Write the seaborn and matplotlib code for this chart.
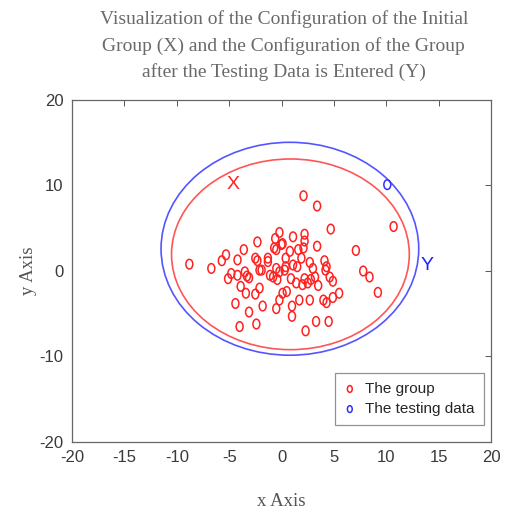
import numpy as np
import pandas as pd
import seaborn as sns
import matplotlib
matplotlib.use("Agg")
import matplotlib.pyplot as plt
from matplotlib.patches import Ellipse
from matplotlib.path import Path

# ---------------- data ----------------
group_x = [-8.8, -6.7, -5.7, -5.3, -5.1, -4.2, -3.6, -2.3, -2.5, -2.3, -1.9, -1.3,
           -3.5, -3.3, -3.1, -4.2, -3.9, -3.4, -2.5, -2.1, -4.4, -3.1, -1.8, -4.0,
           -2.4, -0.6, -0.2, -0.5, 0.0, 1.1, 2.2, 2.2, 2.1, 0.8, 0.4, 1.6, 1.9, 3.4,
           2.7, 4.1, 4.2, 4.6, 4.9, 4.7, 2.1, 3.4, 5.5, 4.9, 4.3, 4.5, 3.3, 2.3, 1.0,
           1.0, -0.5, -0.2, 0.1, 0.5, 1.7, 2.7, 3.5, 2.8, 2.0, 1.4, 0.9, 0.3, -0.5,
           -0.8, -1.1, 3.2, 2.2, 7.1, 7.8, 8.4, 9.2, 10.7, 1.1, 1.5, -2.1, -0.2, 0.4,
           -1.3, -0.7, 0.1, 2.5, 4.3, 3.0, -0.4, 4.0, -4.8]
group_y = [0.8, 0.3, 1.2, 1.9, -0.9, 1.3, 2.5, 3.4, 1.5, 1.2, 0.1, 1.5,
           -0.1, -0.6, -0.8, -0.5, -1.8, -2.6, -2.7, -2.0, -3.8, -4.8, -4.1, -6.5,
           -6.2, 3.8, 4.5, 2.5, 3.1, 4.0, 4.3, 3.5, 2.7, 2.3, 1.5, 2.5, 1.5, 2.9,
           1.0, 1.2, 0.1, -0.7, -1.2, 4.9, 8.8, 7.6, -2.6, -3.1, -3.7, -5.9, -5.9, -7.0, -4.1,
           -5.3, -4.4, -3.4, -2.6, -2.4, -3.4, -3.4, -1.7, -1.0, -1.6, -1.4, -0.9, 0.1, 0.3,
           -0.7, -0.5, -0.7, -0.9, 2.4, 0.0, -0.7, -2.5, 5.2, 0.7, 0.5, 0.1, -0.1, 0.5,
           1.1, 2.7, 3.2, -1.4, 0.5, 0.3, -1.0, -3.4, -0.3]
test_x = [10.1]
test_y = [10.1]

ellipse_names = ["X", "Y"]
ellipse_cx = [0.85, 0.8]
ellipse_cy = [1.95, 2.6]
ellipse_w = [22.7, 24.6]
ellipse_h = [22.3, 24.9]
ellipse_colors = ["#ff5555", "#5555ff"]
label_pos_x = [-4.6, 13.9]
label_pos_y = [10.1, 0.7]

x_ticks = [-20, -15, -10, -5, 0, 5, 10, 15, 20]
y_ticks = [-20, -10, 0, 10, 20]

title = ("Visualization of the Configuration of the Initial\n"
         "Group (X) and the Configuration of the Group\n"
         "after the Testing Data is Entered (Y)")

# ---------------- style ----------------
sns.set_style("white")
plt.rcParams["font.family"] = ["Liberation Sans", "DejaVu Sans"]

fig = plt.figure(figsize=(5.05, 5.13), dpi=100)
ax = fig.add_axes([0.1426, 0.1384, 0.8297, 0.6667])

# oval marker (taller than wide)
circ = Path.unit_circle()
oval = Path(circ.vertices * np.array([0.72, 1.0]), circ.codes)

df_g = pd.DataFrame({"x": group_x, "y": group_y})
df_t = pd.DataFrame({"x": test_x, "y": test_y})

sns.scatterplot(data=df_g, x="x", y="y", ax=ax, marker=oval, s=48,
                facecolors="none", edgecolor="#ff2020", linewidth=1.1,
                label="The group", zorder=3)
sns.scatterplot(data=df_t, x="x", y="y", ax=ax, marker=oval, s=48,
                facecolors="none", edgecolor="#3030ff", linewidth=1.1,
                label="The testing data", zorder=3)

for cx, cy, w, h, c in zip(ellipse_cx, ellipse_cy, ellipse_w, ellipse_h, ellipse_colors):
    ax.add_patch(Ellipse((cx, cy), w, h, fill=False, edgecolor=c, linewidth=1.2, zorder=2))

for name, lx, ly, c in zip(ellipse_names, label_pos_x, label_pos_y, ["#ff2020", "#2020ff"]):
    ax.text(lx, ly, name, color=c, fontsize=14, ha="center", va="center")

ax.set_xlim(-20, 20)
ax.set_ylim(-20, 20)
ax.set_xticks(x_ticks)
ax.set_yticks(y_ticks)
ax.set_xticklabels([str(t) for t in x_ticks])
ax.set_yticklabels([str(t) for t in y_ticks])
ax.tick_params(direction="in", length=4, width=0.7, colors="#555555",
               labelcolor="#3a3a3a", labelsize=12, top=True, right=True, pad=6)

for sp in ax.spines.values():
    sp.set_color("#666666")
    sp.set_linewidth(0.9)

ax.set_xlabel("x Axis", fontsize=13.5, color="#555555",
              family=["Liberation Serif", "DejaVu Serif"], labelpad=20)
ax.set_ylabel("y Axis", fontsize=13.5, color="#555555",
              family=["Liberation Serif", "DejaVu Serif"], labelpad=2)

fig.text(0.562, 0.98, title, ha="center", va="top", fontsize=14,
         color="#6a6a6a", family=["Liberation Serif", "DejaVu Serif"],
         linespacing=1.62)

leg = ax.legend(loc="lower right", bbox_to_anchor=(0.99, 0.04), fontsize=11,
                frameon=True, fancybox=False, edgecolor="#777777",
                handlelength=0.8, handletextpad=0.6, borderpad=0.6,
                labelspacing=0.4, markerscale=0.7, borderaxespad=0.2)
leg.get_frame().set_linewidth(0.9)

fig.savefig("out.png", dpi=100)
